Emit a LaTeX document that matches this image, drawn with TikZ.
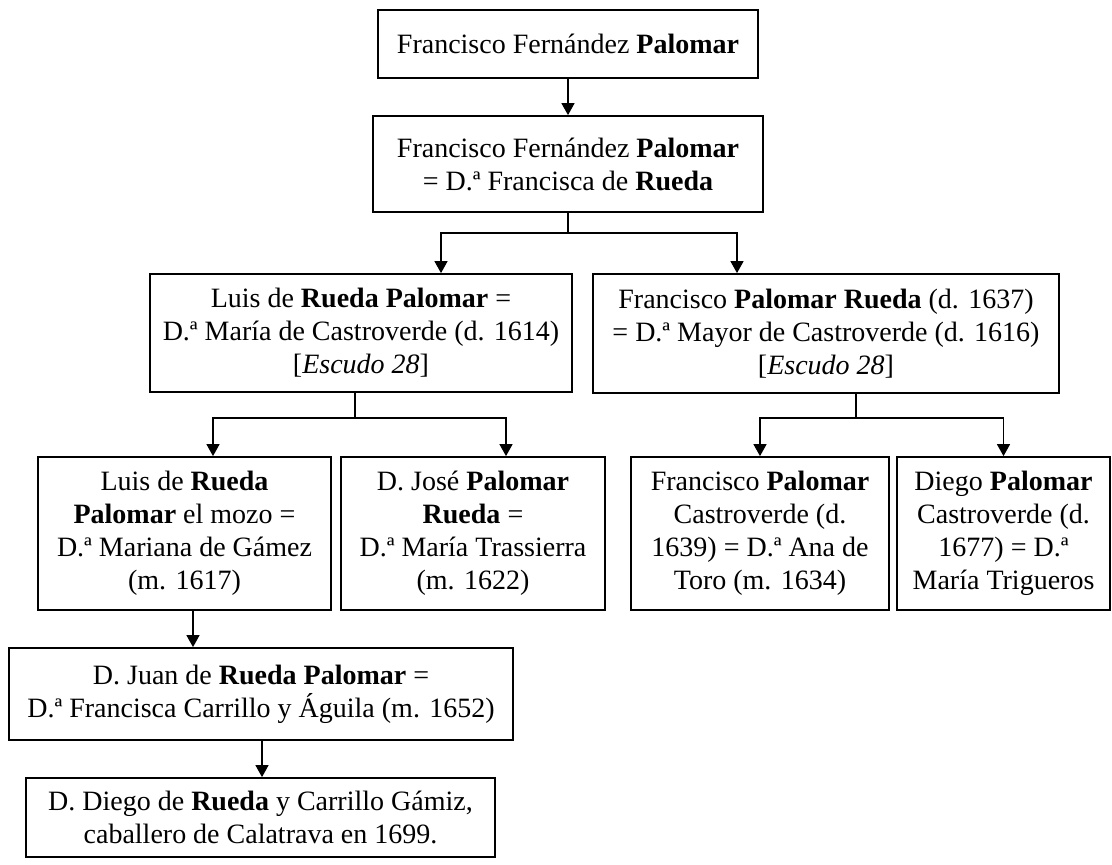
\documentclass[tikz,border=0pt]{standalone}
\usepackage{fontspec}
\setmainfont{Liberation Serif}
\usepackage{tikz}
\usetikzlibrary{arrows.meta}

\begin{document}
\begin{tikzpicture}[x=0.5pt, y=-0.5pt,
    >={Triangle[length=6pt,width=6.5pt]},
    box/.style={draw, line width=0.9pt, align=center, inner sep=0pt,
        font=\fontsize{14}{16.5}\selectfont},
    link/.style={line width=0.7pt}]
    \useasboundingbox (0,0) rectangle (1112,864);
    % First generations
    \node[box, minimum width=190pt, minimum height=34pt] (ffp) at (568,44)
        {Francisco Fernández \textbf{Palomar}};
    \node[box, minimum width=195pt, minimum height=48pt] (ffpr) at (568,164)
        {Francisco Fernández \textbf{Palomar}\\ = D.ª Francisca de \textbf{Rueda}};
    \draw[link, ->] (ffp) -- (ffpr);
    % Sons
    \node[box, minimum width=211pt, minimum height=59pt] (luis) at (361,333)
        {Luis de \textbf{Rueda Palomar} =\\ D.ª María de Castroverde (d. 1614)\\ {[}\textit{Escudo 28}{]}};
    \node[box, minimum width=233pt, minimum height=59.5pt] (fpr) at (826,333.5)
        {Francisco \textbf{Palomar Rueda} (d. 1637)\\ = D.ª Mayor de Castroverde (d. 1616)\\ {[}\textit{Escudo 28}{]}};
    \coordinate (j1) at (568,233);
    \coordinate (j1l) at (441,233);
    \coordinate (j1r) at (737,233);
    \draw[link] (ffpr.south) -- (j1);
    \draw[link, ->] (j1) -- (j1l) -- (j1l |- luis.north);
    \draw[link, ->] (j1) -- (j1r) -- (j1r |- fpr.north);
    % Grandsons
    \node[box, minimum width=146.5pt, minimum height=76.5pt] (mozo) at (184.5,533.5)
        {Luis de \textbf{Rueda}\\ \textbf{Palomar} el mozo =\\ D.ª Mariana de Gámez\\ (m. 1617)};
    \node[box, minimum width=132pt, minimum height=76.5pt] (jose) at (473,533.5)
        {D. José \textbf{Palomar}\\ \textbf{Rueda} =\\ D.ª María Trassierra\\ (m. 1622)};
    \node[box, minimum width=129pt, minimum height=76.5pt] (fpc) at (760,533.5)
        {Francisco \textbf{Palomar}\\ Castroverde (d.\\ 1639) = D.ª Ana de\\ Toro (m. 1634)};
    \node[box, minimum width=106.5pt, minimum height=76.5pt] (dpc) at (1003.5,533.5)
        {Diego \textbf{Palomar}\\ Castroverde (d.\\ 1677) = D.ª\\ María Trigueros};
    \coordinate (j2) at (355,418);
    \coordinate (j2l) at (213,418);
    \coordinate (j2r) at (506,418);
    \draw[link] (j2 |- luis.south) -- (j2);
    \draw[link, ->] (j2) -- (j2l) -- (j2l |- mozo.north);
    \draw[link, ->] (j2) -- (j2r) -- (j2r |- jose.north);
    \coordinate (j3) at (856,418);
    \draw[link] (j3 |- fpr.south) -- (j3);
    \draw[link, ->] (j3) -| (fpc.north);
    \draw[link, ->] (j3) -| (dpc.north);
    % Later line
    \node[box, minimum width=252pt, minimum height=46pt] (juan) at (261,694)
        {D. Juan de \textbf{Rueda Palomar} =\\ D.ª Francisca Carrillo y Águila (m. 1652)};
    \node[box, minimum width=234.5pt, minimum height=39.5pt] (diego) at (260.5,817.5)
        {D. Diego de \textbf{Rueda} y Carrillo Gámiz,\\ caballero de Calatrava en 1699.};
    \coordinate (a1) at (193,0);
    \coordinate (a2) at (262,0);
    \draw[link, ->] (a1 |- mozo.south) -- (a1 |- juan.north);
    \draw[link, ->] (a2 |- juan.south) -- (a2 |- diego.north);
\end{tikzpicture}
\end{document}
